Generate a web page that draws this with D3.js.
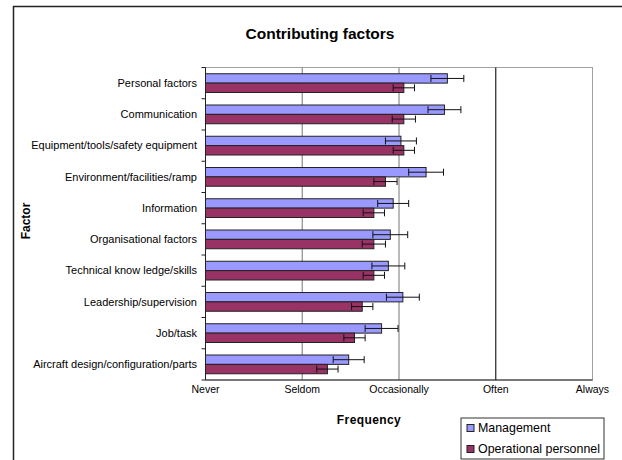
<!DOCTYPE html>
<html>
<head>
<meta charset="utf-8">
<script src="https://cdn.jsdelivr.net/npm/d3@7"></script>
<style>
  body { margin: 0; background: #fff; }
  text { font-family: "Liberation Sans", Arial, sans-serif; fill: #000; }
</style>
</head>
<body>
<svg></svg>
<script>
const width = 622
const height = 460

// chart data (1 = Never ... 5 = Always)
const factors = [
  "Personal factors",
  "Communication",
  "Equipment/tools/safety equipment",
  "Environment/facilities/ramp",
  "Information",
  "Organisational factors",
  "Technical know ledge/skills",
  "Leadership/supervision",
  "Job/task",
  "Aircraft design/configuration/parts"
]
const seriesNames = ["Management", "Operational personnel"]
const management = [3.50, 3.47, 3.02, 3.28, 2.94, 2.91, 2.89, 3.04, 2.82, 2.48]
const managementErr = [0.17, 0.17, 0.16, 0.18, 0.16, 0.18, 0.17, 0.17, 0.17, 0.16]
const operational = [3.05, 3.05, 3.05, 2.86, 2.74, 2.74, 2.74, 2.62, 2.54, 2.26]
const operationalErr = [0.11, 0.12, 0.11, 0.12, 0.11, 0.12, 0.11, 0.11, 0.11, 0.11]
const frequencyLabels = ["Never", "Seldom", "Occasionally", "Often", "Always"]
const colours = ["#9999ff", "#993366"]

const svg = d3.select("svg")
  .attr("width", width)
  .attr("height", height)

// outer chart frame (runs off the right and bottom edge)
svg.append("rect")
  .attr("x", 13.5).attr("y", 6.5)
  .attr("width", 700).attr("height", 600)
  .attr("fill", "none")
  .attr("stroke", "#222")
  .attr("stroke-width", 1.5)

const plot = {left: 205.5, right: 592.5, top: 67.5, bottom: 380}

const x = d3.scaleLinear()
  .domain([1, 5])
  .range([plot.left, plot.right])

const y = d3.scaleBand()
  .domain(factors)
  .range([plot.top, plot.bottom])
  .paddingInner(0.4)
  .paddingOuter(0.2)

const ySub = d3.scaleBand()
  .domain(seriesNames)
  .range([0, y.bandwidth()])

// plot area border
svg.append("rect")
  .attr("x", plot.left).attr("y", plot.top)
  .attr("width", plot.right - plot.left)
  .attr("height", plot.bottom - plot.top)
  .attr("fill", "none")
  .attr("stroke", "#a0a0a0")

// gridlines
svg.append("g")
  .selectAll("line")
  .data([2, 3, 4])
  .enter()
  .append("line")
  .attr("x1", d => x(d)).attr("x2", d => x(d))
  .attr("y1", plot.top).attr("y2", plot.bottom)
  .attr("stroke", d => d == 4 ? "#222" : "#8c8c8c")
  .attr("stroke-width", 1.2)

const rows = factors.map((f, i) => ({
  factor: f,
  values: [
    {series: seriesNames[0], value: management[i], err: managementErr[i], colour: colours[0]},
    {series: seriesNames[1], value: operational[i], err: operationalErr[i], colour: colours[1]}
  ]
}))

const groups = svg.append("g")
  .selectAll("g")
  .data(rows)
  .enter()
  .append("g")
  .attr("transform", d => `translate(0,${y(d.factor)})`)

groups.selectAll("rect")
  .data(d => d.values)
  .enter()
  .append("rect")
  .attr("x", x(1))
  .attr("y", d => ySub(d.series))
  .attr("width", d => x(d.value) - x(1))
  .attr("height", ySub.bandwidth())
  .attr("fill", d => d.colour)
  .attr("stroke", "#222")
  .attr("stroke-width", 1)

// error bars
const errs = groups.selectAll("g.err")
  .data(d => d.values)
  .enter()
  .append("g")
  .attr("class", "err")
  .attr("transform", d => `translate(0,${ySub(d.series) + ySub.bandwidth() / 2})`)

errs.append("line")
  .attr("x1", d => x(d.value - d.err))
  .attr("x2", d => x(d.value + d.err))
  .attr("stroke", "#111")
errs.append("line")
  .attr("x1", d => x(d.value - d.err)).attr("x2", d => x(d.value - d.err))
  .attr("y1", -3.5).attr("y2", 3.5)
  .attr("stroke", "#111")
errs.append("line")
  .attr("x1", d => x(d.value + d.err)).attr("x2", d => x(d.value + d.err))
  .attr("y1", -3.5).attr("y2", 3.5)
  .attr("stroke", "#111")

// y axis with ticks at category boundaries
svg.append("line")
  .attr("x1", plot.left).attr("x2", plot.left)
  .attr("y1", plot.top).attr("y2", plot.bottom)
  .attr("stroke", "#222")
svg.append("g")
  .selectAll("line")
  .data(d3.range(factors.length + 1))
  .enter()
  .append("line")
  .attr("x1", plot.left - 4).attr("x2", plot.left)
  .attr("y1", i => plot.top + i * y.step())
  .attr("y2", i => plot.top + i * y.step())
  .attr("stroke", "#222")

svg.append("g")
  .selectAll("text")
  .data(factors)
  .enter()
  .append("text")
  .attr("x", 197)
  .attr("y", d => y(d) + y.bandwidth() / 2)
  .attr("dy", "0.35em")
  .attr("text-anchor", "end")
  .style("font-size", "11px")
  .text(d => d)

// x axis
svg.append("line")
  .attr("x1", plot.left).attr("x2", plot.right)
  .attr("y1", plot.bottom).attr("y2", plot.bottom)
  .attr("stroke", "#222")

svg.append("g")
  .selectAll("text")
  .data(frequencyLabels)
  .enter()
  .append("text")
  .attr("x", (d, i) => x(i + 1))
  .attr("y", 393)
  .attr("text-anchor", "middle")
  .style("font-size", "10.5px")
  .text(d => d)

// titles
svg.append("text")
  .attr("x", 320).attr("y", 39)
  .attr("text-anchor", "middle")
  .style("font-size", "15.5px")
  .style("font-weight", "bold")
  .text("Contributing factors")

svg.append("text")
  .attr("x", 369).attr("y", 424)
  .attr("text-anchor", "middle")
  .style("font-size", "12px")
  .style("font-weight", "bold")
  .style("letter-spacing", "0.4px")
  .text("Frequency")

svg.append("text")
  .attr("transform", "translate(30,221) rotate(-90)")
  .attr("text-anchor", "middle")
  .style("font-size", "12px")
  .style("font-weight", "bold")
  .text("Factor")

// legend
const legend = svg.append("g").attr("transform", "translate(461,418)")
legend.append("rect")
  .attr("width", 143).attr("height", 41)
  .attr("fill", "#fff")
  .attr("stroke", "#333")
const items = legend.selectAll("g")
  .data(seriesNames)
  .enter()
  .append("g")
  .attr("transform", (d, i) => `translate(6,${10 + i * 21})`)
items.append("rect")
  .attr("x", 0).attr("y", -3.5)
  .attr("width", 7).attr("height", 7)
  .attr("fill", (d, i) => colours[i])
  .attr("stroke", "#222")
items.append("text")
  .attr("x", 11)
  .attr("dy", "0.35em")
  .style("font-size", "12.4px")
  .text(d => d)
</script>
</body>
</html>
